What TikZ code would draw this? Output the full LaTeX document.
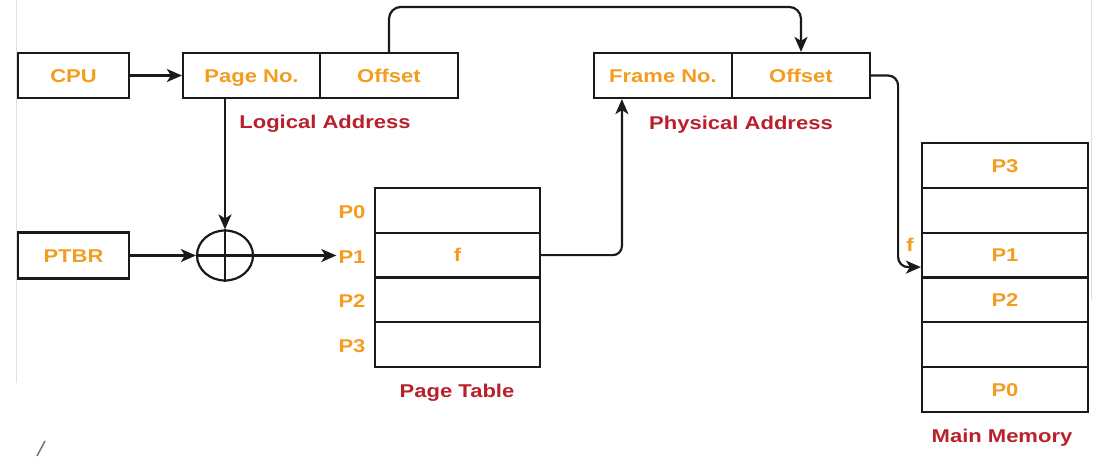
\documentclass[tikz,border=0pt]{standalone}
\usepackage{fontspec}
\setmainfont{Liberation Sans}[FakeStretch=1.19]
\usetikzlibrary{arrows.meta,shapes.geometric}
\definecolor{txtor}{HTML}{F39C1E}
\definecolor{txtred}{HTML}{B8202C}
\definecolor{ln}{HTML}{1A1A1A}
\tikzset{
  txt/.style={inner sep=0pt, text height=17.3pt, text depth=4pt,
    font=\fontsize{18.5}{22}\selectfont\bfseries},
  cell/.style={txt, draw=ln, line width=2.2pt, rectangle, text=txtor},
  lbl/.style={txt, text=txtor},
  captxt/.style={txt, text=txtred},
  arr/.style={draw=ln, line width=2.2pt, -{Stealth[length=15pt,width=13pt,inset=4pt]}},
  conn/.style={draw=ln, line width=2.2pt},
  artifact/.style={draw=black!12, line width=1pt}
}
\begin{document}
\begin{tikzpicture}[x=1pt,y=-1pt]
\useasboundingbox (0,0) rectangle (1095,456);
% faint screenshot edges
\draw[artifact] (16,0) -- (16,383);
\draw[artifact] (1091,0) -- (1091,300);
\draw[draw=black!55, line width=1.5pt] (37,456) -- (45,441);

% logical address
\node[cell, minimum width=111pt, minimum height=45pt] (cpu) at (73.5,75.5) {CPU};
\node[cell, minimum width=137pt, minimum height=45pt] (pageno) at (251.5,75.5) {Page No.};
\node[cell, minimum width=138pt, minimum height=45pt] (loff) at (389,75.5) {Offset};
\node[captxt] (laddr) at (325,122) {Logical Address};

% PTBR and adder
\node[cell, minimum width=111pt, minimum height=46pt] (ptbr) at (73.5,255.5) {PTBR};
\node[draw=ln, line width=2.2pt, ellipse, minimum width=56pt, minimum height=50pt, inner sep=0pt] (circ) at (225,255.5) {};
\draw[conn] (circ.north) -- (circ.south);
\draw[conn] (circ.west) -- (circ.east);

% page table
\node[cell, minimum width=165pt, minimum height=44.75pt] (pt0) at (457.5,210.4) {};
\node[cell, minimum width=165pt, minimum height=44.75pt] (pt1) at (457.5,255.1) {f};
\node[cell, minimum width=165pt, minimum height=44.75pt] (pt2) at (457.5,299.9) {};
\node[cell, minimum width=165pt, minimum height=44.75pt] (pt3) at (457.5,344.6) {};
\node[lbl] (lp0) at (352,212) {P0};
\node[lbl] (lp1) at (352,257) {P1};
\node[lbl] (lp2) at (352,301) {P2};
\node[lbl] (lp3) at (352,346) {P3};
\node[captxt] (ptcap) at (457,391) {Page Table};

% physical address
\node[cell, minimum width=138pt, minimum height=45pt] (frame) at (663,75.5) {Frame No.};
\node[cell, minimum width=138pt, minimum height=45pt] (poff) at (801,75.5) {Offset};
\node[captxt] (paddr) at (741,123) {Physical Address};

% main memory
\node[cell, minimum width=166pt, minimum height=44.83pt] (m0) at (1005,165.4) {P3};
\node[cell, minimum width=166pt, minimum height=44.83pt] (m1) at (1005,210.25) {};
\node[cell, minimum width=166pt, minimum height=44.83pt] (m2) at (1005,255.1) {P1};
\node[cell, minimum width=166pt, minimum height=44.83pt] (m3) at (1005,299.9) {P2};
\node[cell, minimum width=166pt, minimum height=44.83pt] (m4) at (1005,344.75) {};
\node[cell, minimum width=166pt, minimum height=44.83pt] (m5) at (1005,389.6) {P0};
\node[captxt] (mmcap) at (1002,436) {Main Memory};
\node[lbl] (flab) at (910,245) {f};

% connectors
\draw[arr] (cpu.east) -- (pageno.west);
\draw[arr] (circ |- pageno.south) -- (circ.north);
\draw[arr] (ptbr.east) -- (circ.west);
\draw[arr] (circ.east) -- ([xshift=-2pt]circ.east -| lp1.west);
\draw[arr, rounded corners=9pt] (pt1.east) -| ([xshift=29pt]frame.south west);
\draw[arr, rounded corners=12pt] (loff.north) -- ++(0,-45) -| (poff.north);
\draw[arr, rounded corners=10pt] (poff.east) -- ++(27,0) |- ([yshift=-12pt]m2.west);
\end{tikzpicture}
\end{document}
